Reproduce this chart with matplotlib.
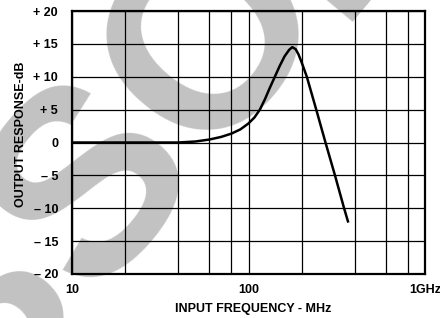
import numpy as np
import matplotlib
matplotlib.use('Agg')
import matplotlib.pyplot as plt
from matplotlib.ticker import FixedLocator, NullLocator

# response curve
freq_mhz = [10, 20, 30, 40, 50, 60, 70, 80, 90, 100, 108, 116, 124, 132, 141,
            150, 160, 170, 177, 185, 192, 200, 214, 242, 273, 309, 348, 366]
resp_db = [0, 0, 0, 0, 0.15, 0.45, 0.85, 1.35, 2.0, 2.9, 3.8, 5.0, 6.6, 8.3, 10.0,
           11.6, 13.1, 14.1, 14.5, 14.2, 13.4, 12.2, 10.0, 5.0, 0.0, -5.0, -10.0, -12.0]

xgrid = [10, 20, 40, 60, 80, 100, 200, 400, 600, 800, 1000]
xticks = [10, 100, 1000]
xticklabels = ['10', '100', '1GHz']
yticks = [20, 15, 10, 5, 0, -5, -10, -15, -20]
yticklabels = ['+ 20', '+ 15', '+ 10', '+ 5', '0', '\u2013 5', '\u2013 10', '\u2013 15', '\u2013 20']

plt.rcParams['font.family'] = ['Liberation Sans', 'DejaVu Sans']
fs = 9

fig = plt.figure(figsize=(4.4, 3.18), dpi=100)
ax = fig.add_axes([72/440, 1 - 274/318, 353/440, 263/318])
ax.set_facecolor('none')

# grey watermark behind everything
wm = dict(rotation=50, rotation_mode='anchor', fontsize=190, fontweight='bold',
          color='#c2c2c2', zorder=-5)
fig.text(0.568, 0.998, 'OBSOLETE', ha='center', va='center', **wm)
# the corner of the "L" that pokes in at the top right
fig.text(335/440, 1 - 22/318, 'LETE', ha='left', va='baseline', **wm)

ax.set_xscale('log')
ax.set_xlim(10, 1000)
ax.set_ylim(-20, 20)

for g in xgrid:
    ax.axvline(g, color='black', lw=0.9, zorder=1)
for g in yticks:
    ax.axhline(g, color='black', lw=0.9, zorder=1)

ax.plot(freq_mhz, resp_db, color='black', lw=1.8, zorder=3)

ax.xaxis.set_major_locator(FixedLocator(xticks))
ax.xaxis.set_minor_locator(NullLocator())
ax.set_xticklabels(xticklabels, fontsize=fs, fontweight='bold')
ax.set_yticks(yticks)
ax.set_yticklabels(yticklabels, fontsize=fs, fontweight='bold')
ax.tick_params(axis='y', length=0, pad=10)
ax.tick_params(axis='x', length=0, pad=7)

for s in ax.spines.values():
    s.set_linewidth(1.6)

ax.set_xlabel('INPUT FREQUENCY - MHz', fontsize=fs, fontweight='bold')
ax.xaxis.set_label_coords(0.513, -0.11)
ax.set_ylabel('OUTPUT RESPONSE-dB', fontsize=fs, fontweight='bold')
ax.yaxis.set_label_coords(-0.128, 0.53)

fig.savefig('out.png', dpi=100)
